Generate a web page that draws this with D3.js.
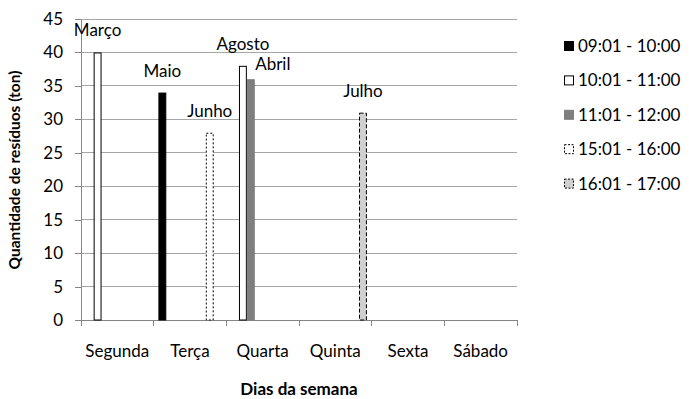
<!DOCTYPE html>
<html>
<head>
<meta charset="utf-8">
<script src="https://cdn.jsdelivr.net/npm/d3@7"></script>
<style>
  html, body { margin: 0; padding: 0; background: #fff; }
  svg { display: block; font-family: Lato, "Open Sans", sans-serif; }
</style>
</head>
<body>
<svg id="chart" width="689" height="399"></svg>
<script>
// Days of the week (categories)
const days = ["Segunda", "Terça", "Quarta", "Quinta", "Sexta", "Sábado"];

// Hourly time slots; every slot keeps its place inside a day group
const slots = ["09:01 - 10:00", "10:01 - 11:00", "11:01 - 12:00", "12:01 - 13:00",
               "13:01 - 14:00", "14:01 - 15:00", "15:01 - 16:00", "16:01 - 17:00"];

// Waste amount (ton) per slot and day; null = no record
const s0901 = [null, 34, null, null, null, null];
const s1001 = [40, null, 38, null, null, null];
const s1101 = [null, null, 36, null, null, null];
const s1201 = [null, null, null, null, null, null];
const s1301 = [null, null, null, null, null, null];
const s1401 = [null, null, null, null, null, null];
const s1501 = [null, 28, null, null, null, null];
const s1601 = [null, null, null, 31, null, null];

// Month name written above each recorded bar
const m0901 = [null, "Maio", null, null, null, null];
const m1001 = ["Março", null, "Agosto", null, null, null];
const m1101 = [null, null, "Abril", null, null, null];
const m1501 = [null, "Junho", null, null, null, null];
const m1601 = [null, null, null, "Julho", null, null];

const yTicks = [0, 5, 10, 15, 20, 25, 30, 35, 40, 45];

const seriesValues = [s0901, s1001, s1101, s1201, s1301, s1401, s1501, s1601];
const seriesMonths = [m0901, m1001, m1101, null, null, null, m1501, m1601];

// Drawing style per slot
const styles = {
  "09:01 - 10:00": { fill: "#000000", stroke: "#000000", dash: null },
  "10:01 - 11:00": { fill: "#ffffff", stroke: "#000000", dash: null },
  "11:01 - 12:00": { fill: "#7f7f7f", stroke: "#7f7f7f", dash: null },
  "15:01 - 16:00": { fill: "#ffffff", stroke: "#000000", dash: "2,2" },
  "16:01 - 17:00": { fill: "#d0d0d0", stroke: "#000000", dash: "4,2" }
};

const svg = d3.select("#chart");
const plot = { left: 81, right: 517, top: 19, bottom: 320 };
const fontSize = 17;

const x0 = d3.scaleBand().domain(days).range([plot.left, plot.right]).padding(0);
const x1 = d3.scaleBand().domain(slots).range([0, x0.bandwidth()])
  .paddingInner(0).paddingOuter(0.6);
const y = d3.scaleLinear().domain([0, 45]).range([plot.bottom, plot.top]);

// Horizontal gridlines
svg.append("g").selectAll("line").data(yTicks.filter(t => t > 0)).join("line")
  .attr("x1", plot.left).attr("x2", plot.right)
  .attr("y1", d => y(d)).attr("y2", d => y(d))
  .attr("stroke", "#a6a6a6").attr("stroke-width", 1)
  .attr("shape-rendering", "crispEdges");

// Y axis
const yAxis = svg.append("g")
  .attr("transform", `translate(${plot.left},0)`)
  .call(d3.axisLeft(y).tickValues(yTicks).tickSize(6).tickPadding(12).tickSizeOuter(0));
yAxis.select(".domain").attr("stroke", "#868686").attr("shape-rendering", "crispEdges");
yAxis.selectAll(".tick line").attr("stroke", "#868686").attr("shape-rendering", "crispEdges");
yAxis.selectAll(".tick text").attr("font-size", fontSize).attr("fill", "#000")
  .attr("font-family", "Lato, sans-serif");

// X axis: category boundary ticks
const xAxisG = svg.append("g");
xAxisG.append("line")
  .attr("x1", plot.left).attr("x2", plot.right)
  .attr("y1", plot.bottom).attr("y2", plot.bottom)
  .attr("stroke", "#868686").attr("shape-rendering", "crispEdges");
const bounds = days.map(d => x0(d)).concat([x0(days[days.length - 1]) + x0.bandwidth()]);
xAxisG.selectAll("line.tk").data(bounds).join("line").attr("class", "tk")
  .attr("x1", d => d).attr("x2", d => d)
  .attr("y1", plot.bottom).attr("y2", plot.bottom + 6)
  .attr("stroke", "#868686").attr("shape-rendering", "crispEdges");
xAxisG.selectAll("text").data(days).join("text")
  .attr("x", d => x0(d) + x0.bandwidth() / 2)
  .attr("y", plot.bottom + 37)
  .attr("text-anchor", "middle")
  .attr("font-size", fontSize)
  .text(d => d);

// Bars
const records = [];
slots.forEach((slot, si) => {
  seriesValues[si].forEach((v, di) => {
    if (v != null) {
      records.push({ slot, day: days[di], value: v,
        month: seriesMonths[si] ? seriesMonths[si][di] : null });
    }
  });
});

const bw = x1.bandwidth();
svg.append("g").selectAll("rect").data(records).join("rect")
  .attr("x", d => x0(d.day) + x1(d.slot) + 0.5)
  .attr("y", d => y(d.value) + 0.5)
  .attr("width", bw - 1)
  .attr("height", d => y(0) - y(d.value) - 0.5)
  .attr("fill", d => styles[d.slot].fill)
  .attr("stroke", d => styles[d.slot].stroke)
  .attr("stroke-width", 1)
  .attr("stroke-dasharray", d => styles[d.slot].dash);

// Month labels above bars (Abril nudged right and down so it clears Agosto)
const labelNudge = { "Abril": [22, 7] };
svg.append("g").selectAll("text").data(records.filter(d => d.month)).join("text")
  .attr("x", d => x0(d.day) + x1(d.slot) + bw / 2 + (labelNudge[d.month] ? labelNudge[d.month][0] : 0))
  .attr("y", d => y(d.value) - 16 + (labelNudge[d.month] ? labelNudge[d.month][1] : 0))
  .attr("text-anchor", "middle")
  .attr("font-size", fontSize)
  .text(d => d.month);

// Axis titles
svg.append("text")
  .attr("transform", `translate(20,${170}) rotate(-90)`)
  .attr("text-anchor", "middle")
  .attr("font-size", 15.5).attr("font-weight", "bold")
  .text("Quantidade de resíduos (ton)");
svg.append("text")
  .attr("x", 299).attr("y", 395)
  .attr("text-anchor", "middle")
  .attr("font-size", 17).attr("font-weight", "bold")
  .text("Dias da semana");

// Legend: only the slots that hold records
const legendSlots = slots.filter(s => styles[s]);
const lg = svg.append("g").selectAll("g").data(legendSlots).join("g")
  .attr("transform", (d, i) => `translate(564,${46 + i * 34.4})`);
lg.append("rect")
  .attr("x", 0.5).attr("y", -4.5).attr("width", 9).attr("height", 9)
  .attr("fill", d => styles[d].fill)
  .attr("stroke", d => styles[d].stroke)
  .attr("stroke-dasharray", d => styles[d].dash ? "2,1.5" : null);
lg.append("text")
  .attr("x", 14).attr("y", 6)
  .attr("font-size", fontSize)
  .text(d => d);
</script>
</body>
</html>
